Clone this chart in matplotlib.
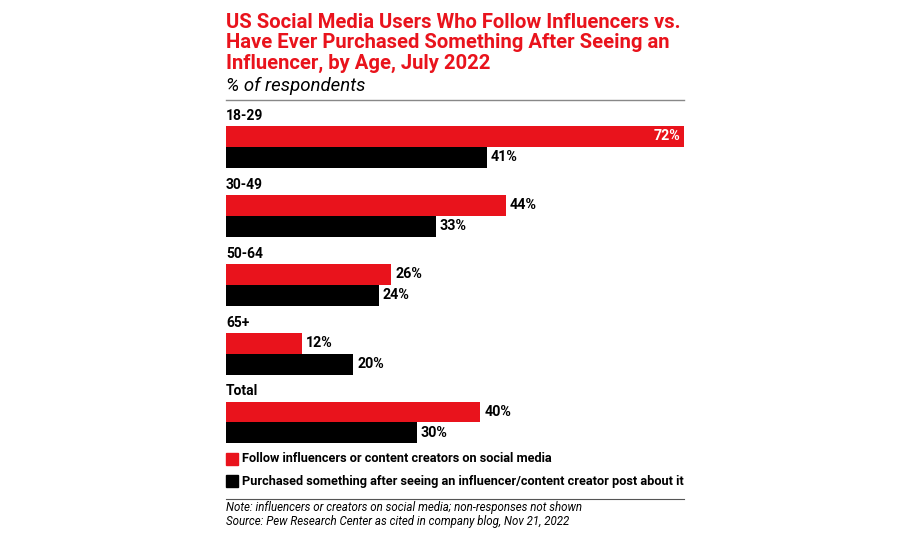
import matplotlib.pyplot as plt
from matplotlib.patches import Rectangle

groups = ['18-29', '30-49', '50-64', '65+', 'Total']
follow = [72, 44, 26, 12, 40]
purchased = [41, 33, 24, 20, 30]
series_names = ['Follow influencers or content creators on social media',
                'Purchased something after seeing an influencer/content creator post about it']

RED = '#e9131c'
BLACK = '#000000'
plt.rcParams['font.family'] = ['Roboto', 'DejaVu Sans']

W, H = 916, 537
fig = plt.figure(figsize=(W / 100, H / 100), dpi=100)

def fx(px):
    return px / W

def fy(py):
    return 1 - py / H

# title block
title = ('US Social Media Users Who Follow Influencers vs.\n'
         'Have Ever Purchased Something After Seeing an\n'
         'Influencer, by Age, July 2022')
fig.text(fx(226), fy(13), title, color=RED, fontsize=14.6, fontweight='bold',
         va='top', ha='left', linespacing=1.1)
fig.text(fx(226), fy(86), '% of respondents', fontsize=13.4, style='italic',
         va='center', ha='left')
fig.add_artist(plt.Line2D([fx(226), fx(684)], [fy(100), fy(100)], color='#888888', lw=1))

# bars
top, bottom = 102, 446.6
ax = fig.add_axes([fx(226), fy(bottom), fx(684) - fx(226), fy(top) - fy(bottom)])
h = 0.304
pos = list(range(len(groups)))
ax.barh([p - h / 2 for p in pos], follow, height=h, color=RED)
ax.barh([p + h / 2 for p in pos], purchased, height=h, color=BLACK)
ax.set_xlim(0, 72)
ax.set_ylim(4.35, -0.65)
ax.axis('off')

for p, g in zip(pos, groups):
    ax.text(0, p - 0.45, g, fontsize=10, fontweight='bold', va='center', ha='left')
for p, v in zip(pos, follow):
    if v >= 60:
        ax.text(v - 0.6, p - h / 2, f'{v}%', color='white', fontsize=10.3,
                fontweight='bold', va='center', ha='right')
    else:
        ax.text(v + 0.6, p - h / 2, f'{v}%', fontsize=10.3, fontweight='bold',
                va='center', ha='left')
for p, v in zip(pos, purchased):
    ax.text(v + 0.6, p + h / 2, f'{v}%', fontsize=10.3, fontweight='bold',
            va='center', ha='left')

# legend
for py, col, name in [(459, RED, series_names[0]), (481, BLACK, series_names[1])]:
    fig.add_artist(Rectangle((fx(226), fy(py + 6)), fx(11.5), 12 / H, color=col,
                             transform=fig.transFigure))
    fig.text(fx(242), fy(py), name, fontsize=9.2, fontweight='bold', va='center', ha='left')

fig.add_artist(plt.Line2D([fx(226), fx(684)], [fy(499), fy(499)], color='#555555', lw=0.8))
fig.text(fx(226), fy(508), 'Note: influencers or creators on social media; non-responses not shown',
         fontsize=8.3, style='italic', va='center', ha='left')
fig.text(fx(226), fy(521), 'Source: Pew Research Center as cited in company blog, Nov 21, 2022',
         fontsize=8.3, style='italic', va='center', ha='left')

fig.savefig('out.png', dpi=100)
